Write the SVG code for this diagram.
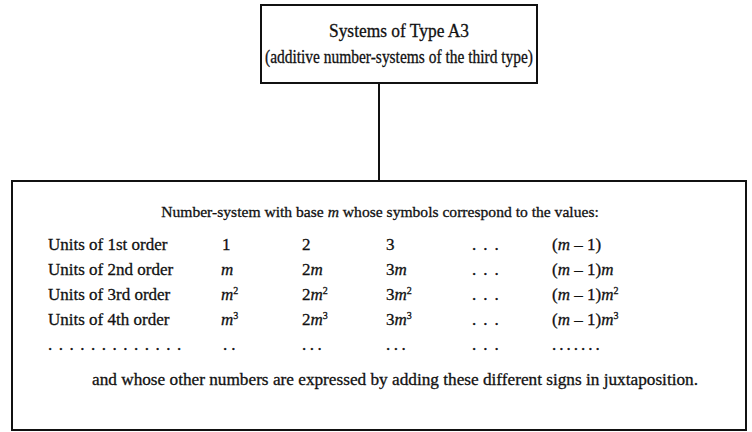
<svg xmlns="http://www.w3.org/2000/svg" width="752" height="432" viewBox="0 0 752 432">
<style>
text{font-family:"Liberation Serif","Times New Roman",serif;font-size:17px;fill:#111;stroke:#111;stroke-width:0.3}
.i{font-style:italic}
.sup{font-size:10px}
.box{fill:#fff;stroke:#111;stroke-width:2}
.c{text-anchor:middle}
.d{letter-spacing:7px}
</style>
<rect width="752" height="432" fill="#fff"/>
<g id="connectors">
<line x1="379" y1="83" x2="379" y2="181" stroke="#111" stroke-width="2"/>
</g>
<g id="node-top">
<rect class="box" x="261" y="5" width="276" height="78"/>
<text class="c" x="399" y="37" style="font-size:18px" textLength="140" lengthAdjust="spacingAndGlyphs">Systems of Type A3</text>
<text x="265" y="63" style="font-size:18px" textLength="268" lengthAdjust="spacingAndGlyphs">(additive number-systems of the third type)</text>
</g>
<g id="node-bottom">
<rect class="box" x="12" y="181" width="734" height="249"/>
<text class="c" x="380" y="217" style="font-size:15.6px">Number-system with base <tspan class="i">m</tspan> whose symbols correspond to the values:</text>
<text x="48" y="250">Units of 1st order</text>
<text x="48" y="275">Units of 2nd order</text>
<text x="48" y="300">Units of 3rd order</text>
<text x="48" y="325">Units of 4th order</text>
<text x="222" y="250">1</text>
<text x="302" y="250">2</text>
<text x="386" y="250">3</text>
<text class="d" x="472" y="250">...</text>
<text x="552" y="250">(<tspan class="i">m</tspan> – 1)</text>
<text class="i" x="221" y="275">m</text>
<text x="302" y="275">2<tspan class="i">m</tspan></text>
<text x="386" y="275">3<tspan class="i">m</tspan></text>
<text class="d" x="472" y="275">...</text>
<text x="552" y="275">(<tspan class="i">m</tspan> – 1)<tspan class="i">m</tspan></text>
<text x="221" y="300"><tspan class="i">m</tspan><tspan class="sup" dy="-6">2</tspan></text>
<text x="302" y="300">2<tspan class="i">m</tspan><tspan class="sup" dy="-6">2</tspan></text>
<text x="386" y="300">3<tspan class="i">m</tspan><tspan class="sup" dy="-6">2</tspan></text>
<text class="d" x="472" y="300">...</text>
<text x="552" y="300">(<tspan class="i">m</tspan> – 1)<tspan class="i">m</tspan><tspan class="sup" dy="-6">2</tspan></text>
<text x="221" y="325"><tspan class="i">m</tspan><tspan class="sup" dy="-6">3</tspan></text>
<text x="302" y="325">2<tspan class="i">m</tspan><tspan class="sup" dy="-6">3</tspan></text>
<text x="386" y="325">3<tspan class="i">m</tspan><tspan class="sup" dy="-6">3</tspan></text>
<text class="d" x="472" y="325">...</text>
<text x="552" y="325">(<tspan class="i">m</tspan> – 1)<tspan class="i">m</tspan><tspan class="sup" dy="-6">3</tspan></text>
<text class="d" x="48" y="350" style="letter-spacing:6.5px">.............</text>
<text class="d" x="223" y="350" style="letter-spacing:4px">..</text>
<text class="d" x="302" y="350" style="letter-spacing:3.5px">...</text>
<text class="d" x="386" y="350" style="letter-spacing:3.5px">...</text>
<text class="d" x="472" y="350">...</text>
<text class="d" x="552" y="350" style="letter-spacing:3px">.......</text>
<text x="92" y="385" textLength="606" lengthAdjust="spacingAndGlyphs">and whose other numbers are expressed by adding these different signs in juxtaposition.</text>
</g>
</svg>
